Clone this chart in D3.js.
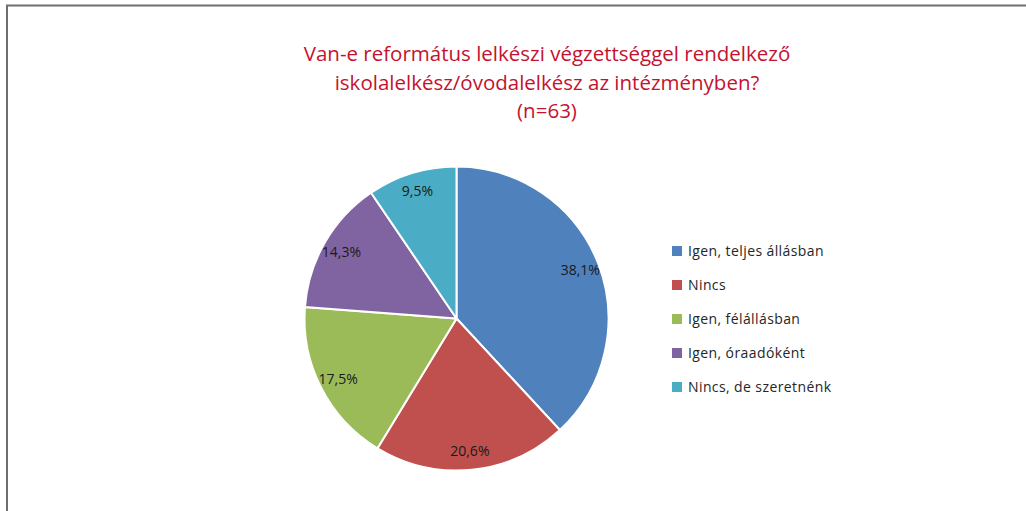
<!DOCTYPE html>
<html>
<head>
<meta charset="utf-8">
<script src="https://cdn.jsdelivr.net/npm/d3@7"></script>
<style>
  body { margin: 0; background: #fff; }
  svg { display: block; }
</style>
</head>
<body>
<div id="viz"></div>
<script>
let categories = ['Igen, teljes állásban', 'Nincs', 'Igen, félállásban', 'Igen, óraadóként', 'Nincs, de szeretnénk'];
let values = [38.1, 20.6, 17.5, 14.3, 9.5];
let labels = ['38,1%', '20,6%', '17,5%', '14,3%', '9,5%'];
let titleLines = ['Van-e református lelkészi végzettséggel rendelkező', 'iskolalelkész/óvodalelkész az intézményben?', '(n=63)'];
let sliceColors = ['#4F81BD', '#C0504D', '#9BBB59', '#8064A2', '#4BACC6'];

let width = 1026,
    height = 511,
    radius = 152,
    cx = 456.5,
    cy = 318.5;

let svg = d3.select('#viz').append('svg')
    .attr('width', width)
    .attr('height', height);

// frame (only top and left show inside the picture)
svg.append('rect')
    .attr('x', 7).attr('y', 5.5)
    .attr('width', 1040).attr('height', 540)
    .attr('fill', 'none')
    .attr('stroke', '#6e6e6e')
    .attr('stroke-width', 2);

svg.append('text')
    .attr('text-anchor', 'middle')
    .attr('fill', '#C4122F')
    .style('font-family', '"Open Sans", sans-serif')
    .style('font-size', '20.5px')
    .style('font-weight', 500)
  .selectAll('tspan').data(titleLines)
    .enter().append('tspan')
      .attr('x', 547)
      .attr('y', function(d, i){ return 61 + i * 28.5; })
      .text(function(d){ return d; });

let color = d3.scaleOrdinal().domain(categories).range(sliceColors);

let pie = d3.pie().sort(null).value(function(d){ return d.v; });
let data = categories.map(function(c, i){ return {cat: c, v: values[i], lab: labels[i]}; });

let arc = d3.arc().innerRadius(0).outerRadius(radius);
let labelArc = d3.arc().innerRadius(133).outerRadius(133);

let g = svg.append('g').attr('transform', 'translate(' + cx + ',' + cy + ')');

g.selectAll('path').data(pie(data))
  .enter().append('path')
    .attr('d', arc)
    .attr('fill', function(d){ return color(d.data.cat); })
    .attr('stroke', '#fff')
    .attr('stroke-width', 2);

g.selectAll('text').data(pie(data))
  .enter().append('text')
    .attr('transform', function(d){ return 'translate(' + labelArc.centroid(d) + ')'; })
    .attr('text-anchor', 'middle')
    .attr('dy', '0.35em')
    .attr('fill', '#1a1a1a')
    .style('font-family', '"Open Sans", sans-serif')
    .style('font-size', '14px')
    .text(function(d){ return d.data.lab; });

let legend = svg.append('g').attr('transform', 'translate(672,0)');

let rows = legend.selectAll('g').data(categories)
  .enter().append('g')
    .attr('transform', function(d, i){ return 'translate(0,' + (251 + i * 34) + ')'; });

rows.append('rect')
    .attr('x', 0).attr('y', -5)
    .attr('width', 10).attr('height', 10)
    .attr('fill', function(d){ return color(d); });

rows.append('text')
    .attr('x', 16)
    .attr('dy', '0.35em')
    .attr('fill', '#262626')
    .style('font-family', '"Open Sans", sans-serif')
    .style('font-size', '14px')
    .style('letter-spacing', '0.4px')
    .text(function(d){ return d; });
</script>
</body>
</html>
